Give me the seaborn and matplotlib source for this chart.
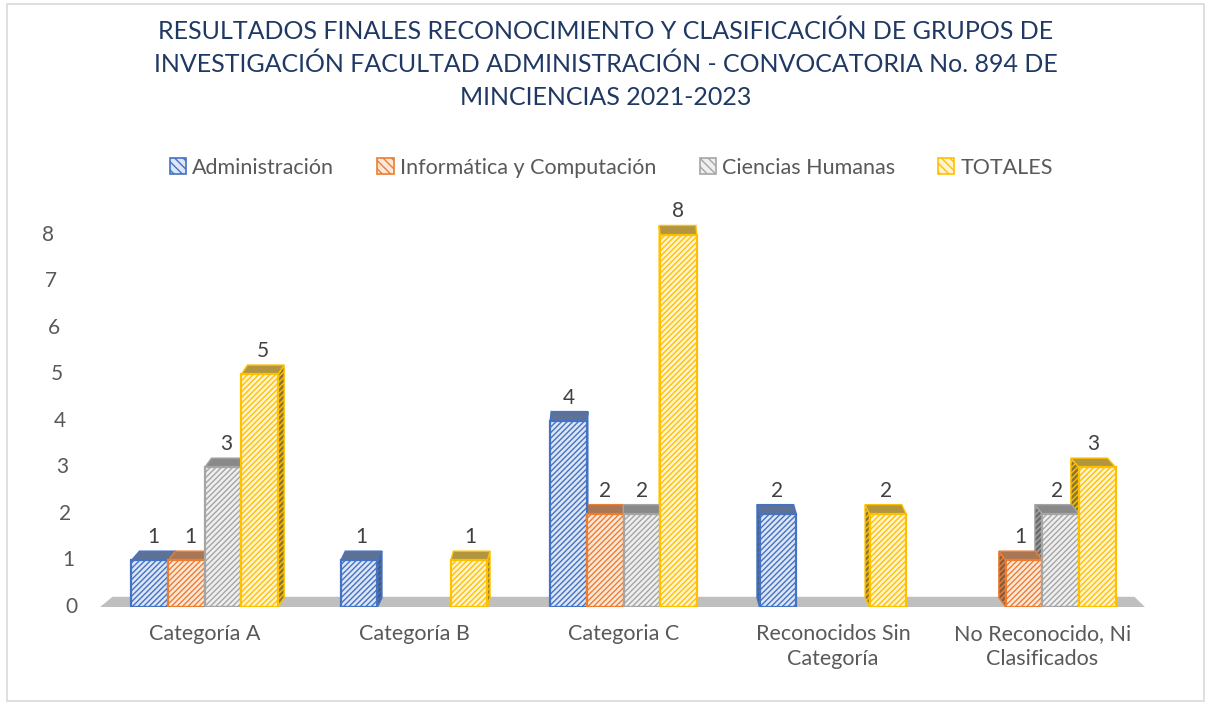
import matplotlib
matplotlib.use("Agg")
import matplotlib.pyplot as plt
from matplotlib.patches import Polygon, Patch, Rectangle
import matplotlib.colors as mcolors
import seaborn as sns
import pandas as pd
import numpy as np

# ---- data ----
categorias = ["Categoría A", "Categoría B", "Categoria C",
              "Reconocidos Sin\nCategoría", "No Reconocido, Ni\nClasificados"]
series = ["Administración", "Informática y Computación", "Ciencias Humanas", "TOTALES"]
administracion = [1, 1, 4, 2, 0]
informatica = [1, 0, 2, 0, 1]
ciencias_humanas = [3, 0, 2, 0, 2]
totales = [5, 1, 8, 2, 3]
y_ticks = [0, 1, 2, 3, 4, 5, 6, 7, 8]

titulo = ("RESULTADOS FINALES RECONOCIMIENTO Y CLASIFICACIÓN DE GRUPOS DE\n"
          "INVESTIGACIÓN FACULTAD ADMINISTRACIÓN - CONVOCATORIA No. 894 DE\n"
          "MINCIENCIAS 2021-2023")

colores = ["#4472C4", "#ED7D31", "#A5A5A5", "#FFC000"]
texto_gris = "#595959"

df = pd.DataFrame({
    "categoria": categorias * 4,
    "serie": np.repeat(series, len(categorias)),
    "valor": administracion + informatica + ciencias_humanas + totales,
})

sns.set_theme(style="white")
plt.rcParams["font.family"] = ["Lato", "DejaVu Sans"]
plt.rcParams["hatch.linewidth"] = 1.0

W, H = 1211, 705
fig = plt.figure(figsize=(W / 100, H / 100), dpi=100)
ax_left, ax_w = 100 / W, 1047 / W
ax = fig.add_axes([ax_left, 0.139, ax_w, 0.561])

sns.barplot(data=df, x="categoria", y="valor", hue="serie", order=categorias,
            hue_order=series, palette=colores, width=0.7, legend=False,
            ax=ax, saturation=1)

ax.set_xlim(-0.5, 4.5)
ax.set_ylim(0, 8.5)

# floor band under the bars
ax.add_patch(Polygon([(-0.5, 0), (4.49, 0), (4.44, 0.22), (-0.44, 0.22)],
                     closed=True, facecolor="#BFBFBF", edgecolor="none",
                     zorder=0.5))

centro = 2.0
dy = 0.2
for i, serie in enumerate(series):
    col = colores[i]
    rgb = np.array(mcolors.to_rgb(col))
    cara = tuple(rgb * 0.18 + 0.82)
    tapa = tuple(rgb * 0.45 + np.array([0.45, 0.45, 0.45]) * 0.55)
    lado = tuple(rgb * 0.35 + np.array([0.3, 0.3, 0.3]) * 0.65)
    for bar in ax.containers[i]:
        h = bar.get_height()
        if h <= 0:
            bar.set_visible(False)
            continue
        x0 = bar.get_x()
        w = bar.get_width()
        x1 = x0 + w
        xc = x0 + w / 2
        dx = 0.017 * (centro - xc)
        bar.set_facecolor(cara)
        bar.set_edgecolor(col)
        bar.set_hatch("//////")
        bar.set_linewidth(1.6)
        bar.set_zorder(3)
        # top face
        ax.add_patch(Polygon([(x0, h), (x1, h), (x1 + dx, h + dy), (x0 + dx, h + dy)],
                             closed=True, facecolor=tapa, edgecolor=col,
                             linewidth=1.0, zorder=2.5))
        # visible side face
        if abs(dx) > 0.004:
            xs = x1 if dx > 0 else x0
            ax.add_patch(Polygon([(xs, 0), (xs, h), (xs + dx, h + dy), (xs + dx, dy)],
                                 closed=True, facecolor=lado, edgecolor=col,
                                 linewidth=1.0, hatch="//////", zorder=2.4))
        ax.text(xc + dx / 2, h + 0.5, f"{int(h)}", ha="center", va="center",
                fontsize=15, color="#404040", zorder=5)

for s in ax.spines.values():
    s.set_visible(False)
ax.set_xlabel("")
ax.set_ylabel("")
ax.tick_params(axis="x", length=0, pad=12, labelsize=15.5, labelcolor=texto_gris)
for lbl in ax.get_xticklabels():
    lbl.set_linespacing(1.35)
ax.set_yticks(y_ticks)
ax.set_yticklabels([])
ax.tick_params(axis="y", length=0)
# y labels follow the slanted left wall of the chart
for v in y_ticks:
    px = 71 - 23 * v / 8
    ax.text((px - 100) / 1047, v, str(v),
            transform=ax.get_yaxis_transform(), ha="center", va="center",
            fontsize=15, color=texto_gris)

fig.suptitle(titulo, x=0.5, y=0.972, fontsize=18, color="#1F3864",
             linespacing=1.5, va="top")

handles = [Patch(facecolor=tuple(np.array(mcolors.to_rgb(c)) * 0.18 + 0.82),
                 edgecolor=c, hatch="\\\\\\\\", label=s, linewidth=1.2)
           for s, c in zip(series, colores)]
fig.legend(handles=handles, loc="center", bbox_to_anchor=(0.505, 0.762), ncol=4,
           frameon=False, fontsize=15.5, labelcolor=texto_gris,
           handlelength=0.75, handleheight=0.75, columnspacing=2.0, handletextpad=0.3)

fig.add_artist(Rectangle((0.006, 0.006), 0.988, 0.988, transform=fig.transFigure,
                         fill=False, edgecolor="#D9D9D9", linewidth=1.2))

fig.savefig("out.png", dpi=100, facecolor="white")
